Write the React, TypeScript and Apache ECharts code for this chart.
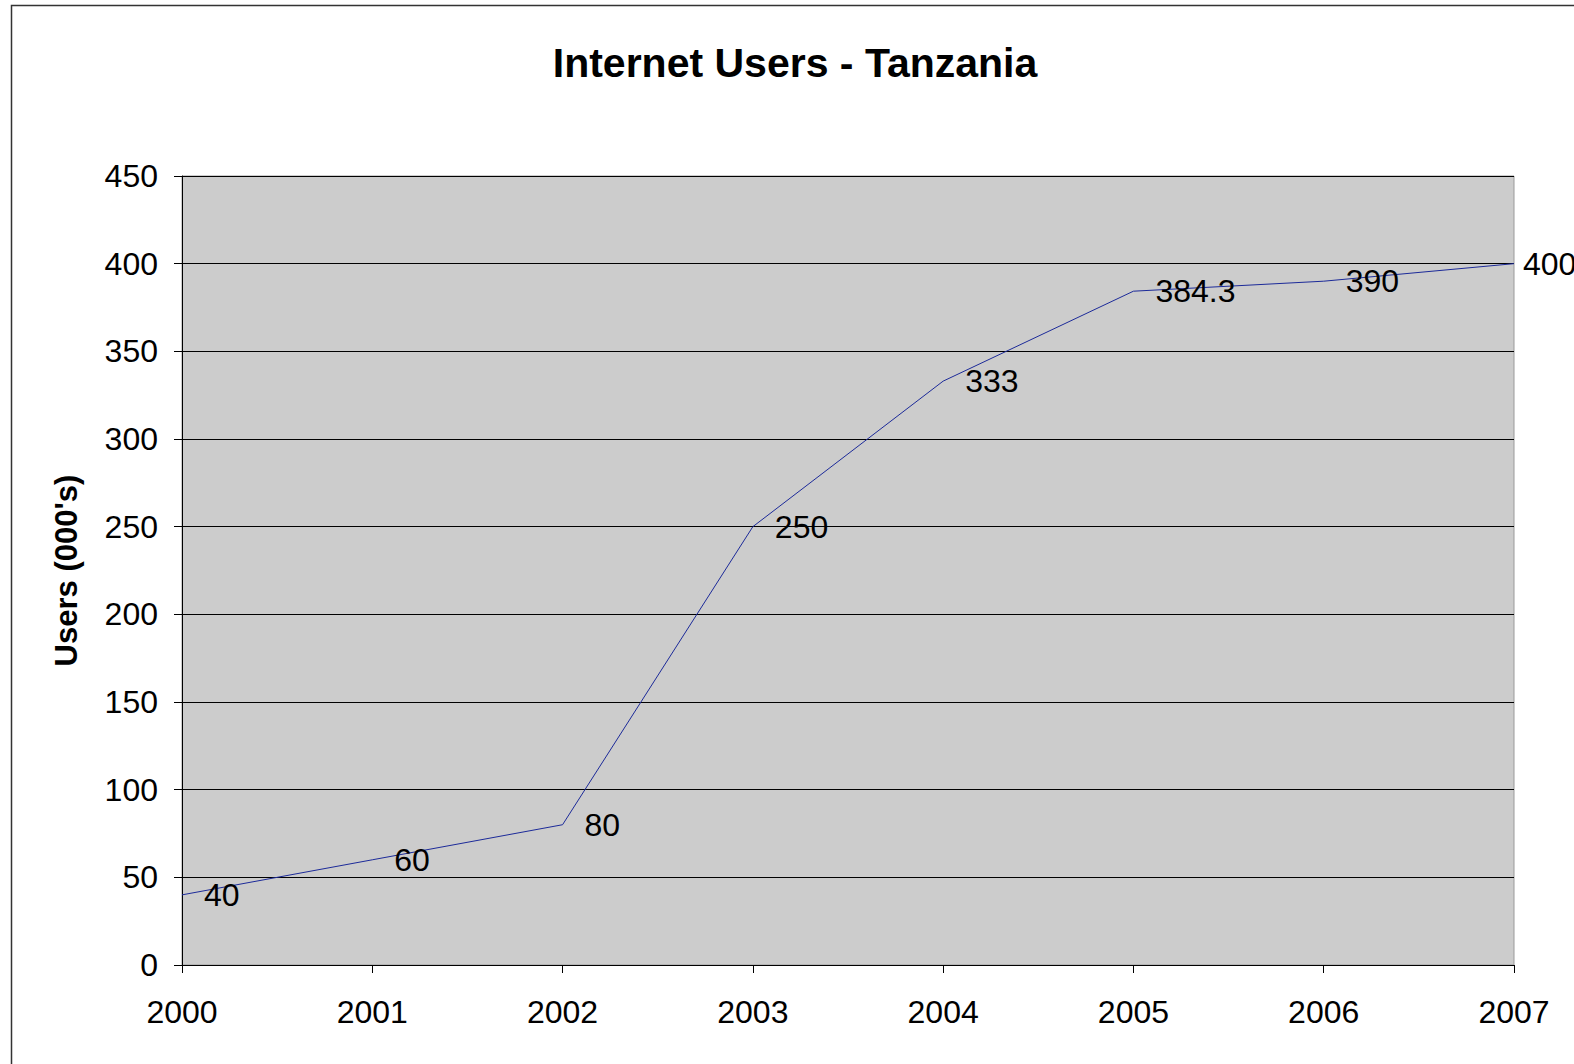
import React, { useEffect, useRef } from "react";
import * as echarts from "echarts";

const years = ["2000", "2001", "2002", "2003", "2004", "2005", "2006", "2007"];
const users = [40, 60, 80, 250, 333, 384.3, 390, 400];
const titleText = "Internet Users - Tanzania";
const yAxisTitle = "Users (000's)";

export default function App() {
  const ref = useRef<HTMLDivElement>(null);
  useEffect(() => {
    const chart = echarts.init(ref.current!, null, { renderer: "svg" });
    const font = "Liberation Sans, Arial, sans-serif";
    const seriesData = users.map((v, i) =>
      i === users.length - 1 ? { value: v, label: { distance: 9 } } : v
    );
    chart.setOption({
      animation: false,
      backgroundColor: "#ffffff",
      title: {
        text: titleText,
        left: 790,
        textAlign: "center",
        top: 37,
        textStyle: { fontFamily: font, fontSize: 41, fontWeight: "bold", color: "#000" },
      },
      graphic: [
        {
          type: "rect",
          shape: { x: 11.5, y: 5.5, width: 1600, height: 1100 },
          style: { fill: "none", stroke: "#333", lineWidth: 1.5 },
          silent: true,
        },
      ],
      grid: {
        left: 182,
        right: 60,
        top: 176,
        bottom: 99,
        show: true,
        backgroundColor: "#CCCCCC",
        borderColor: "#9a9a9a",
        borderWidth: 1,
      },
      xAxis: {
        type: "category",
        data: years,
        boundaryGap: false,
        axisLine: { lineStyle: { color: "#000", width: 1 } },
        axisTick: { show: true, length: 8, lineStyle: { color: "#000" }, alignWithLabel: true },
        axisLabel: { fontFamily: font, fontSize: 32, color: "#000", margin: 31 },
        splitLine: { show: false },
      },
      yAxis: {
        type: "value",
        min: 0,
        max: 450,
        interval: 50,
        name: yAxisTitle,
        nameLocation: "middle",
        nameGap: 100,
        nameTextStyle: { fontFamily: font, fontSize: 31, fontWeight: "bold", color: "#000" },
        axisLine: { show: true, lineStyle: { color: "#000", width: 1 } },
        axisTick: { show: true, length: 8, lineStyle: { color: "#000" } },
        axisLabel: { fontFamily: font, fontSize: 32, color: "#000", margin: 24 },
        splitLine: { show: true, lineStyle: { color: "#000", width: 1 } },
      },
      series: [
        {
          type: "line",
          data: seriesData,
          symbol: "circle",
          symbolSize: 0,
          showSymbol: true,
          lineStyle: { color: "#1c2a99", width: 1 },
          itemStyle: { color: "#1c2a99" },
          labelLayout: { hideOverlap: false },
          label: {
            show: true,
            position: "right",
            distance: 22,
            fontFamily: font,
            fontSize: 32,
            color: "#000",
          },
        },
      ],
    });
    return () => chart.dispose();
  }, []);
  return (
    <div
      ref={ref}
      style={{ position: "absolute", left: 0, top: 0, width: 1574, height: 1064 }}
    />
  );
}
